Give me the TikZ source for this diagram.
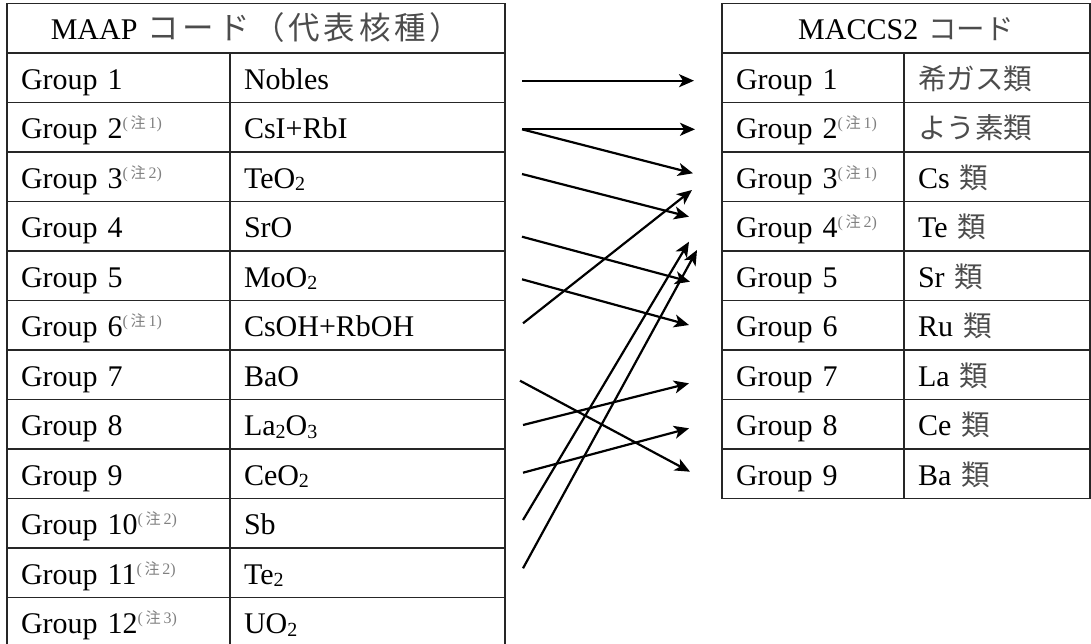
\documentclass[tikz,border=0pt]{standalone}
\usepackage{fontspec}
\setmainfont{Liberation Serif}
\newfontfamily\cjk[Scale=0.95]{Noto Sans CJK JP}
\newfontfamily\cjkbig[Scale=1.05, LetterSpace=12]{Noto Sans CJK JP}
\usetikzlibrary{arrows.meta, positioning}

\newcommand{\chu}[1]{\raisebox{10pt}{\fontsize{16}{16}\selectfont\color{black!50}(\,{\cjk 注}\,#1)}}
\newcommand{\jp}[1]{{\cjk\color{black!70}#1}}
\newcommand{\sub}[1]{\raisebox{-2.5pt}{\fontsize{20}{20}\selectfont #1}}

\begin{document}
\begin{tikzpicture}[
  x=1pt, y=-1pt,
  every node/.style={font=\fontsize{30}{36}\selectfont},
  cell/.style={draw=black!85, line width=1.2pt, outer sep=0pt, inner xsep=14pt, inner ysep=0pt,
    text height=36pt, text depth=13.5pt, text width=#1, align=left},
  cellA/.style={cell=195pt},
  cellB/.style={cell=247pt},
  cellC/.style={cell=154pt},
  cellD/.style={cell=158pt},
  head/.style={cell=#1, align=center},
  link/.style={-{Stealth[length=15pt, width=13pt, inset=4pt]}, line width=2.2pt}
]
\useasboundingbox (0,0) rectangle (1091,643);
\clip (0,0) rectangle (1091,643);

% ---- MAAP ----
\node[head=470pt, anchor=north west] (lh) at (7,3.5)
  {MAAP {\cjkbig\color{black!70}コード（代表核種）}};
\node[cellA, anchor=north west] (la1) at (lh.south west) {Group 1};
\node[cellB, right=0pt of la1] (lb1) {Nobles};
\node[cellA, below=0pt of la1] (la2) {Group 2\chu{1}};
\node[cellB, right=0pt of la2] (lb2) {CsI+RbI};
\node[cellA, below=0pt of la2] (la3) {Group 3\chu{2}};
\node[cellB, right=0pt of la3] (lb3) {TeO\sub{2}};
\node[cellA, below=0pt of la3] (la4) {Group 4};
\node[cellB, right=0pt of la4] (lb4) {SrO};
\node[cellA, below=0pt of la4] (la5) {Group 5};
\node[cellB, right=0pt of la5] (lb5) {MoO\sub{2}};
\node[cellA, below=0pt of la5] (la6) {Group 6\chu{1}};
\node[cellB, right=0pt of la6] (lb6) {CsOH+RbOH};
\node[cellA, below=0pt of la6] (la7) {Group 7};
\node[cellB, right=0pt of la7] (lb7) {BaO};
\node[cellA, below=0pt of la7] (la8) {Group 8};
\node[cellB, right=0pt of la8] (lb8) {La\sub{2}O\sub{3}};
\node[cellA, below=0pt of la8] (la9) {Group 9};
\node[cellB, right=0pt of la9] (lb9) {CeO\sub{2}};
\node[cellA, below=0pt of la9] (la10) {Group 10\chu{2}};
\node[cellB, right=0pt of la10] (lb10) {Sb};
\node[cellA, below=0pt of la10] (la11) {Group 11\chu{2}};
\node[cellB, right=0pt of la11] (lb11) {Te\sub{2}};
\node[cellA, below=0pt of la11] (la12) {Group 12\chu{3}};
\node[cellB, right=0pt of la12] (lb12) {UO\sub{2}};

% ---- MACCS2 ----
\node[head=340pt, anchor=north west] (rh) at (722,3.5) {MACCS2 \jp{コード}};
\node[cellC, anchor=north west] (ra1) at (rh.south west) {Group 1};
\node[cellD, right=0pt of ra1] (rb1) {\jp{希ガス類}};
\node[cellC, below=0pt of ra1] (ra2) {Group 2\chu{1}};
\node[cellD, right=0pt of ra2] (rb2) {\jp{よう素類}};
\node[cellC, below=0pt of ra2] (ra3) {Group 3\chu{1}};
\node[cellD, right=0pt of ra3] (rb3) {Cs \jp{類}};
\node[cellC, below=0pt of ra3] (ra4) {Group 4\chu{2}};
\node[cellD, right=0pt of ra4] (rb4) {Te \jp{類}};
\node[cellC, below=0pt of ra4] (ra5) {Group 5};
\node[cellD, right=0pt of ra5] (rb5) {Sr \jp{類}};
\node[cellC, below=0pt of ra5] (ra6) {Group 6};
\node[cellD, right=0pt of ra6] (rb6) {Ru \jp{類}};
\node[cellC, below=0pt of ra6] (ra7) {Group 7};
\node[cellD, right=0pt of ra7] (rb7) {La \jp{類}};
\node[cellC, below=0pt of ra7] (ra8) {Group 8};
\node[cellD, right=0pt of ra8] (rb8) {Ce \jp{類}};
\node[cellC, below=0pt of ra8] (ra9) {Group 9};
\node[cellD, right=0pt of ra9] (rb9) {Ba \jp{類}};

% ---- arrow ends ----
\coordinate (nobles) at (522,80.7);   \coordinate (noble) at (694,80.7);
\coordinate (csi) at (522,129.3);     \coordinate (iodine) at (695,129.3);
\coordinate (cs) at (693,173.3);      \coordinate (csb) at (692,190);
\coordinate (teo) at (522,174);       \coordinate (te) at (689,216.7);
\coordinate (sro) at (522,236.7);     \coordinate (sr) at (690,281.7);
\coordinate (moo) at (522,279.3);     \coordinate (ru) at (689,325);
\coordinate (csoh) at (523,323.3);
\coordinate (bao) at (520,380.7);     \coordinate (ba) at (690,471.7);
\coordinate (lao) at (523,425);       \coordinate (la) at (689,383.3);
\coordinate (ceo) at (523,472.7);     \coordinate (ce) at (689,428.3);
\coordinate (sb) at (523,520);        \coordinate (teb) at (689,241.7);
\coordinate (tee) at (523,568.3);     \coordinate (tec) at (697,250);

% ---- MAAP -> MACCS2 ----
\draw[link] (nobles) -- (noble);
\draw[link] (csi) -- (iodine);
\draw[link] (csi) -- (cs);
\draw[link] (teo) -- (te);
\draw[link] (sro) -- (sr);
\draw[link] (moo) -- (ru);
\draw[link] (csoh) -- (csb);
\draw[link] (bao) -- (ba);
\draw[link] (lao) -- (la);
\draw[link] (ceo) -- (ce);
\draw[link] (sb) -- (teb);
\draw[link] (tee) -- (tec);
\end{tikzpicture}
\end{document}
